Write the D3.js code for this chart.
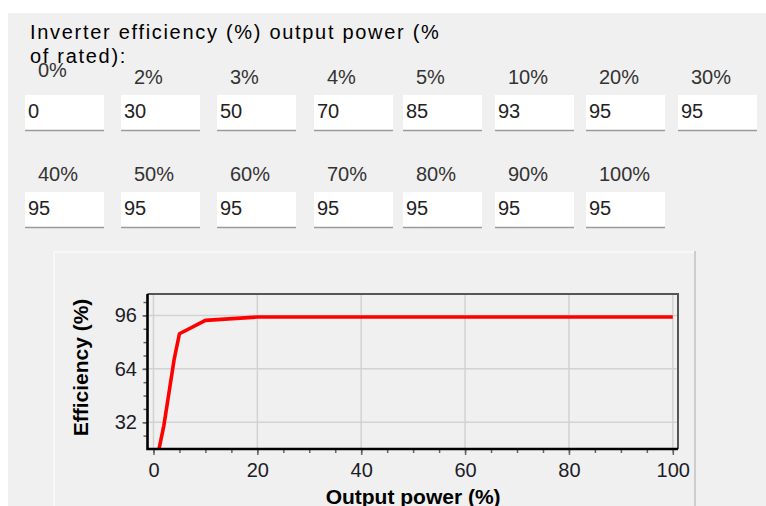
<!DOCTYPE html>
<html>
<head>
<meta charset="utf-8">
<script src="https://cdn.jsdelivr.net/npm/d3@7"></script>
<style>
  body { margin: 0; background: #fff; }
  svg text { font-family: "Liberation Sans", Arial, sans-serif; }
</style>
</head>
<body>
<div id="container"></div>
<script>
/* DATA */
const powerLabels = ["0%", "2%", "3%", "4%", "5%", "10%", "20%", "30%", "40%", "50%", "60%", "70%", "80%", "90%", "100%"];
const powerLevels = [0, 2, 3, 4, 5, 10, 20, 30, 40, 50, 60, 70, 80, 90, 100];
const efficiency = [0, 30, 50, 70, 85, 93, 95, 95, 95, 95, 95, 95, 95, 95, 95];
const xTicks = [0, 20, 40, 60, 80, 100];
const yTicks = [32, 64, 96];

/* CONSTANTS */
const width = 766, height = 506;
const colX = [25, 121, 217, 314, 403, 495, 586, 678];
const rowTop = [95, 192];
const boxW = 79, boxH = 36;
const plot = { left: 147.5, right: 678, top: 294, bottom: 449 };

const svg = d3.select("#container")
  .append("svg")
  .attr("width", width)
  .attr("height", height);

// window background
svg.append("rect")
  .attr("x", 8).attr("y", 13)
  .attr("width", width - 8).attr("height", height - 13)
  .attr("fill", "#f0f0f0");

// title (wraps onto 2 lines)
svg.append("text")
  .attr("x", 30).attr("y", 39)
  .attr("font-size", 20).attr("letter-spacing", 1.7).attr("fill", "#000")
  .text("Inverter efficiency (%) output power (%");
svg.append("text")
  .attr("x", 30).attr("y", 63)
  .attr("font-size", 20).attr("letter-spacing", 1.7).attr("fill", "#000")
  .text("of rated):");

/* INPUT FIELDS */
const fields = powerLabels.map((lab, i) => ({
  label: lab,
  value: efficiency[i],
  col: i % 8,
  row: Math.floor(i / 8)
}));

const field = svg.selectAll("g.field")
  .data(fields)
  .join("g")
  .attr("class", "field")
  .attr("transform", d => `translate(${colX[d.col]},${rowTop[d.row]})`);

field.append("text")
  .attr("x", 13)
  .attr("y", d => d.row === 0 && d.col === 0 ? -18 : -11)
  .attr("font-size", 20)
  .attr("fill", "#333")
  .text(d => d.label);

field.append("rect")
  .attr("width", boxW).attr("height", boxH)
  .attr("fill", "#fff");

field.append("line")
  .attr("x1", 0).attr("x2", boxW)
  .attr("y1", boxH - 0.5).attr("y2", boxH - 0.5)
  .attr("stroke", "#9a9a9a").attr("stroke-width", 1.5);

field.append("text")
  .attr("x", 3).attr("y", 23)
  .attr("font-size", 20)
  .attr("fill", "#222")
  .text(d => d.value);

/* CHART PANEL */
svg.append("line")
  .attr("x1", 54).attr("x2", 695).attr("y1", 252).attr("y2", 252)
  .attr("stroke", "#fbfbfb").attr("stroke-width", 1.5);
svg.append("line")
  .attr("x1", 54).attr("x2", 54).attr("y1", 252).attr("y2", height)
  .attr("stroke", "#fbfbfb").attr("stroke-width", 1.5);
svg.append("line")
  .attr("x1", 695).attr("x2", 695).attr("y1", 251).attr("y2", height)
  .attr("stroke", "#cdcdcd").attr("stroke-width", 2);

/* SCALES */
const xScale = d3.scaleLinear()
  .domain([-1.15, 101])
  .range([plot.left, plot.right]);

const yScale = d3.scaleLinear()
  .domain([16, 108.8])
  .range([plot.bottom, plot.top]);

// grid
svg.append("g")
  .selectAll("line")
  .data(xTicks)
  .join("line")
  .attr("x1", d => xScale(d)).attr("x2", d => xScale(d))
  .attr("y1", plot.top).attr("y2", plot.bottom)
  .attr("stroke", "#d2d2d2").attr("stroke-width", 1.5);

svg.append("g")
  .selectAll("line")
  .data(yTicks)
  .join("line")
  .attr("x1", plot.left).attr("x2", plot.right)
  .attr("y1", d => yScale(d)).attr("y2", d => yScale(d))
  .attr("stroke", "#d2d2d2").attr("stroke-width", 1.5);

// axes - minor ticks
const xMinor = svg.append("g")
  .attr("transform", `translate(0,${plot.bottom})`)
  .call(d3.axisBottom(xScale).tickValues(d3.range(0, 101, 5)).tickSize(4).tickFormat(""));
const yMinor = svg.append("g")
  .attr("transform", `translate(${plot.left},0)`)
  .call(d3.axisLeft(yScale).tickValues(d3.range(24, 109, 8)).tickSize(4).tickFormat(""));

// axes - major ticks with labels
const xAxis = svg.append("g")
  .attr("transform", `translate(0,${plot.bottom})`)
  .call(d3.axisBottom(xScale).tickValues(xTicks).tickSize(6).tickPadding(8));
const yAxis = svg.append("g")
  .attr("transform", `translate(${plot.left},0)`)
  .call(d3.axisLeft(yScale).tickValues(yTicks).tickSize(5).tickPadding(5.5));

[xMinor, yMinor, xAxis, yAxis].forEach(g => {
  g.select(".domain").remove();
  g.selectAll(".tick line").attr("stroke", "#666").attr("stroke-width", 1.5);
  g.selectAll(".tick text")
    .attr("font-size", 20)
    .attr("font-family", "Liberation Sans, Arial, sans-serif")
    .attr("fill", "#1c1c28");
});

// line
svg.append("clipPath")
  .attr("id", "plot-clip")
  .append("rect")
  .attr("x", plot.left).attr("y", plot.top)
  .attr("width", plot.right - plot.left).attr("height", plot.bottom - plot.top);

const points = powerLevels.map((p, i) => ({ p, e: efficiency[i] }));
const line = d3.line()
  .x(d => xScale(d.p))
  .y(d => yScale(d.e));

svg.append("path")
  .datum(points)
  .attr("clip-path", "url(#plot-clip)")
  .attr("d", line)
  .attr("fill", "none")
  .attr("stroke", "#ff0000")
  .attr("stroke-width", 3.6)
  .attr("stroke-linejoin", "round");

// frame
svg.append("path")
  .attr("d", `M${plot.left},${plot.top}H${plot.right}V${plot.bottom}`)
  .attr("fill", "none").attr("stroke", "#555").attr("stroke-width", 2);
svg.append("path")
  .attr("d", `M${plot.left},${plot.top}V${plot.bottom}H${plot.right}`)
  .attr("fill", "none").attr("stroke", "#000").attr("stroke-width", 2.6);

// axis titles
svg.append("text")
  .attr("x", (xScale(0) + xScale(100)) / 2)
  .attr("y", 503.5)
  .attr("text-anchor", "middle")
  .attr("font-size", 21).attr("font-weight", "bold")
  .attr("fill", "#000")
  .text("Output power (%)");

svg.append("text")
  .attr("transform", "translate(88,367.5) rotate(-90)")
  .attr("text-anchor", "middle")
  .attr("font-size", 21).attr("font-weight", "bold")
  .attr("fill", "#000")
  .text("Efficiency (%)");
</script>
</body>
</html>
